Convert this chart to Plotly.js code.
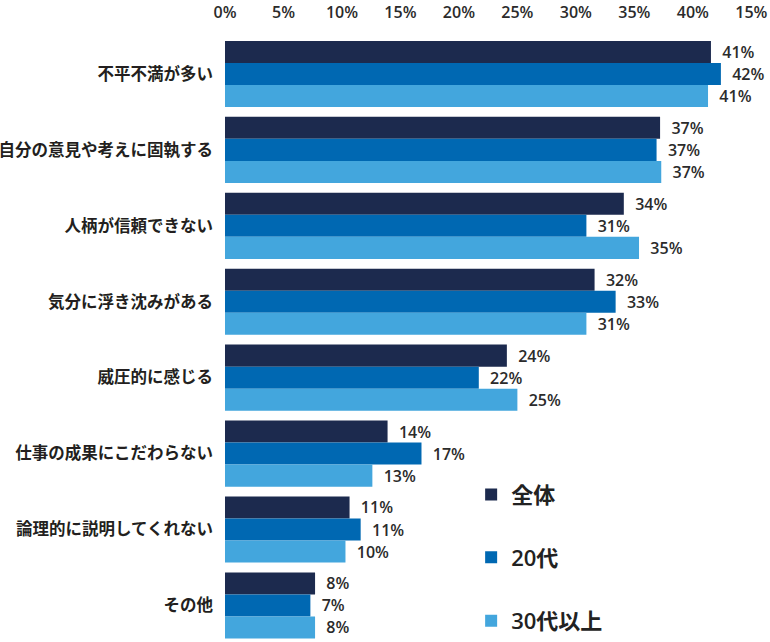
<!DOCTYPE html>
<html>
<head>
<meta charset="utf-8">
<script src="https://cdn.plot.ly/plotly-3.0.1.min.js"></script>
<style>
html, body { margin: 0; padding: 0; background: #ffffff; }
#chart { width: 770px; height: 642px; }
</style>
</head>
<body>
<div id="chart"></div>
<script>
// Categories (top to bottom)
const categories = [
  '不平不満が多い',
  '自分の意見や考えに固執する',
  '人柄が信頼できない',
  '気分に浮き沈みがある',
  '威圧的に感じる',
  '仕事の成果にこだわらない',
  '論理的に説明してくれない',
  'その他'
];

// Series names
const seriesNames = ['全体', '20代', '30代以上'];

// Bar lengths (%)
const valuesAll      = [41.55, 37.2, 34.1, 31.6, 24.1, 13.9, 10.65, 7.7];
const valuesTwenties = [42.4, 36.9, 30.9, 33.4, 21.7, 16.8, 11.6, 7.3];
const valuesThirties = [41.3, 37.3, 35.4, 30.9, 25.0, 12.6, 10.3, 7.7];

// Printed value labels (%)
const labelsAll      = [41, 37, 34, 32, 24, 14, 11, 8];
const labelsTwenties = [42, 37, 31, 33, 22, 17, 11, 7];
const labelsThirties = [41, 37, 35, 31, 25, 13, 10, 8];

// Axis ticks (as printed in the original, including its last label)
const tickValues = [0, 5, 10, 15, 20, 25, 30, 35, 40, 45];
const tickLabels = ['0%', '5%', '10%', '15%', '20%', '25%', '30%', '35%', '40%', '15%'];

const colors = ['#1c2a4e', '#0068b2', '#43a6dd'];
const seriesValues = [valuesAll, valuesTwenties, valuesThirties];
const seriesLabels = [labelsAll, labelsTwenties, labelsThirties];
const legendIds = ['legend', 'legend2', 'legend3'];

const textFont = { family: '"Open Sans", "Noto Sans CJK JP", sans-serif', size: 16, color: '#2b2b2b', weight: 600 };

const traces = seriesNames.map((name, i) => ({
  type: 'bar',
  orientation: 'h',
  name: name,
  y: categories,
  x: seriesValues[i],
  text: seriesLabels[i],
  texttemplate: '\u00a0\u00a0%{text}%',
  textposition: 'outside',
  textfont: textFont,
  constraintext: 'none',
  cliponaxis: false,
  marker: { color: colors[i], line: { width: 0 } },
  legend: legendIds[i],
  hoverinfo: 'skip'
}));

const H = 642, T = 35.8;
const plotH = H - T;
const L = 225, R = 7.3;
const plotW = 770 - L - R;
function py(p) { return (H - p) / plotH; }
function px(p) { return (p - L) / plotW; }

const legendFont = { family: '"Open Sans", "Noto Sans CJK JP", sans-serif', size: 22, color: '#222222', weight: 600 };
function legendAt(yPix) {
  return {
    x: px(471), xanchor: 'left',
    y: py(yPix), yanchor: 'middle',
    bgcolor: 'rgba(0,0,0,0)', borderwidth: 0,
    font: legendFont
  };
}

const layout = {
  width: 770,
  height: 642,
  margin: { l: L, r: R, t: T, b: 0, pad: 0 },
  paper_bgcolor: '#ffffff',
  plot_bgcolor: '#ffffff',
  barmode: 'group',
  bargap: 0.129,
  bargroupgap: 0,
  showlegend: true,
  legend: legendAt(497),
  legend2: legendAt(560),
  legend3: legendAt(624),
  xaxis: {
    side: 'top',
    range: [0, 46],
    tickvals: tickValues,
    ticktext: tickLabels,
    showgrid: false,
    zeroline: false,
    showline: false,
    ticks: 'outside',
    ticklen: 11,
    tickcolor: 'rgba(0,0,0,0)',
    tickfont: { family: '"Open Sans", sans-serif', size: 16, color: '#2b2b2b', weight: 600 },
    fixedrange: true
  },
  yaxis: {
    type: 'category',
    categoryarray: categories,
    range: [7.442, -0.5],
    showgrid: false,
    zeroline: false,
    showline: false,
    ticks: '',
    ticklabelstandoff: 11,
    tickfont: { family: '"Noto Sans CJK JP", sans-serif', size: 16.5, color: '#231f20', weight: 'bold' },
    fixedrange: true
  }
};

Plotly.newPlot('chart', traces, layout, { displayModeBar: false, staticPlot: true });
</script>
</body>
</html>
